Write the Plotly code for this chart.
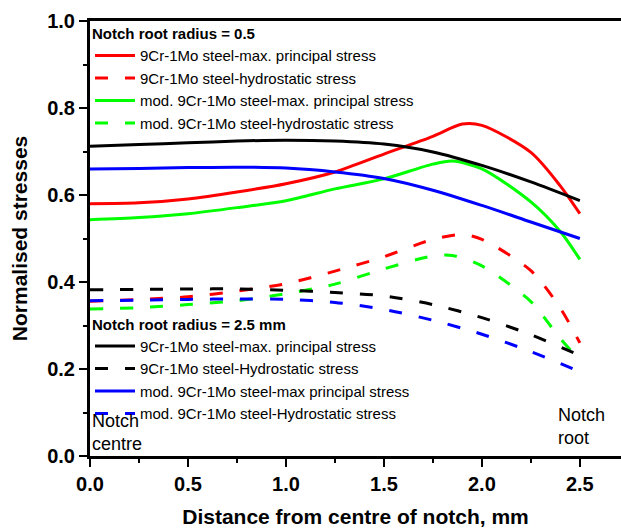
import plotly.graph_objects as go

# ---- data ----
x_red_max = [0, 0.25, 0.5, 0.75, 1.0, 1.25, 1.5, 1.75, 1.9, 2.0, 2.25, 2.4, 2.5]
y_red_max = [0.580, 0.582, 0.591, 0.607, 0.626, 0.653, 0.694, 0.735, 0.763, 0.760, 0.698, 0.621, 0.557]

x_red_hyd = [0, 0.25, 0.5, 0.75, 1.0, 1.25, 1.5, 1.75, 1.9, 2.0, 2.25, 2.4, 2.5]
y_red_hyd = [0.356, 0.360, 0.366, 0.379, 0.396, 0.425, 0.458, 0.498, 0.509, 0.498, 0.426, 0.340, 0.260]

x_grn_max = [0, 0.25, 0.5, 0.75, 1.0, 1.25, 1.5, 1.75, 1.85, 2.0, 2.25, 2.4, 2.5]
y_grn_max = [0.543, 0.548, 0.557, 0.571, 0.587, 0.614, 0.637, 0.671, 0.678, 0.660, 0.584, 0.516, 0.452]

x_grn_hyd = [0, 0.25, 0.5, 0.75, 1.0, 1.25, 1.5, 1.75, 1.85, 2.0, 2.25, 2.4, 2.5]
y_grn_hyd = [0.338, 0.341, 0.348, 0.357, 0.373, 0.395, 0.430, 0.460, 0.461, 0.437, 0.355, 0.270, 0.220]

x_blk_max = [0, 0.25, 0.5, 0.75, 1.0, 1.25, 1.5, 1.75, 2.0, 2.25, 2.5]
y_blk_max = [0.712, 0.716, 0.720, 0.724, 0.726, 0.724, 0.717, 0.699, 0.668, 0.630, 0.587]

x_blk_hyd = [0, 0.25, 0.5, 0.75, 1.0, 1.25, 1.5, 1.75, 2.0, 2.25, 2.5]
y_blk_hyd = [0.382, 0.383, 0.384, 0.384, 0.381, 0.376, 0.368, 0.348, 0.318, 0.279, 0.231]

x_blu_max = [0, 0.25, 0.5, 0.75, 1.0, 1.25, 1.5, 1.75, 2.0, 2.25, 2.5]
y_blu_max = [0.660, 0.661, 0.663, 0.664, 0.662, 0.653, 0.638, 0.611, 0.576, 0.538, 0.500]

x_blu_hyd = [0, 0.25, 0.5, 0.75, 1.0, 1.25, 1.5, 1.75, 2.0, 2.25, 2.5]
y_blu_hyd = [0.357, 0.358, 0.360, 0.361, 0.360, 0.353, 0.337, 0.312, 0.280, 0.240, 0.194]

y_ticks = [0.0, 0.2, 0.4, 0.6, 0.8, 1.0]
x_ticks = [0.0, 0.5, 1.0, 1.5, 2.0, 2.5]

FONT = "Liberation Sans, Arial, sans-serif"
DASH = "13px,17px"
RED, GRN, BLK, BLU = "#ff0000", "#00ff00", "#000000", "#0000ff"

fig = go.Figure()

def add(x, y, name, color, dash, legend):
    fig.add_trace(go.Scatter(
        x=x, y=y, mode="lines", name=name, legend=legend,
        line=dict(color=color, width=3, dash=dash, shape="spline", smoothing=0.8),
    ))

add(x_red_max, y_red_max, "9Cr-1Mo steel-max. principal stress", RED, "solid", "legend")
add(x_red_hyd, y_red_hyd, "9Cr-1Mo steel-hydrostatic stress", RED, DASH, "legend")
add(x_grn_max, y_grn_max, "mod. 9Cr-1Mo steel-max. principal stress", GRN, "solid", "legend")
add(x_grn_hyd, y_grn_hyd, "mod. 9Cr-1Mo steel-hydrostatic stress", GRN, DASH, "legend")
add(x_blk_max, y_blk_max, "9Cr-1Mo steel-max. principal stress", BLK, "solid", "legend2")
add(x_blk_hyd, y_blk_hyd, "9Cr-1Mo steel-Hydrostatic stress", BLK, DASH, "legend2")
add(x_blu_max, y_blu_max, "mod. 9Cr-1Mo steel-max principal stress", BLU, "solid", "legend2")
add(x_blu_hyd, y_blu_hyd, "mod. 9Cr-1Mo steel-Hydrostatic stress", BLU, DASH, "legend2")

legend_common = dict(
    bgcolor="rgba(0,0,0,0)", borderwidth=0, xanchor="left", yanchor="top",
    font=dict(family=FONT, size=15, color="black"), tracegroupgap=0,
    itemwidth=40,
)

fig.update_layout(
    width=621, height=528,
    margin=dict(l=90, r=0, t=21, b=69),
    paper_bgcolor="white", plot_bgcolor="white",
    font=dict(family=FONT, color="black"),
    showlegend=True,
    legend=dict(x=0.0, y=1.003, title=dict(text="<b>Notch root radius = 0.5</b>",
                font=dict(family=FONT, size=15), side="top"), **legend_common),
    legend2=dict(x=0.0, y=0.335, title=dict(text="<b>Notch root radius = 2.5 mm</b>",
                 font=dict(family=FONT, size=15), side="top"), **legend_common),
    xaxis=dict(
        range=[0, 2.71], tickvals=x_ticks, ticktext=[f"{v:.1f}" for v in x_ticks],
        ticks="outside", ticklen=8, tickwidth=2, tickcolor="black",
        minor=dict(dtick=0.25, ticks="outside", ticklen=4, tickwidth=2, tickcolor="black"),
        showline=True, linewidth=3, linecolor="black", mirror=True,
        showgrid=False, zeroline=False,
        tickfont=dict(family=FONT, size=20, color="black", weight="bold"),
        title=dict(text="<b>Distance from centre of notch, mm</b>",
                   font=dict(family=FONT, size=21), standoff=18),
    ),
    yaxis=dict(
        range=[0, 1.0], tickvals=y_ticks, ticktext=[f"{v:.1f}" for v in y_ticks],
        ticks="outside", ticklen=8, tickwidth=2, tickcolor="black",
        minor=dict(dtick=0.1, ticks="outside", ticklen=4, tickwidth=2, tickcolor="black"),
        showline=True, linewidth=3, linecolor="black", mirror=False,
        showgrid=False, zeroline=False,
        tickfont=dict(family=FONT, size=20, color="black", weight="bold"),
        title=dict(text="<b>Normalised stresses</b>", font=dict(family=FONT, size=21), standoff=14),
    ),
)

fig.add_annotation(x=0, y=0.055, xref="x", yref="y", xanchor="left", yanchor="middle",
                   text="Notch<br>centre", showarrow=False, align="left",
                   font=dict(family=FONT, size=18, color="black"), xshift=0)
fig.add_annotation(x=2.38, y=0.0685, xref="x", yref="y", xanchor="left", yanchor="middle",
                   text="Notch<br>root", showarrow=False, align="left",
                   font=dict(family=FONT, size=18, color="black"), xshift=0)

fig.write_html("out.html")
